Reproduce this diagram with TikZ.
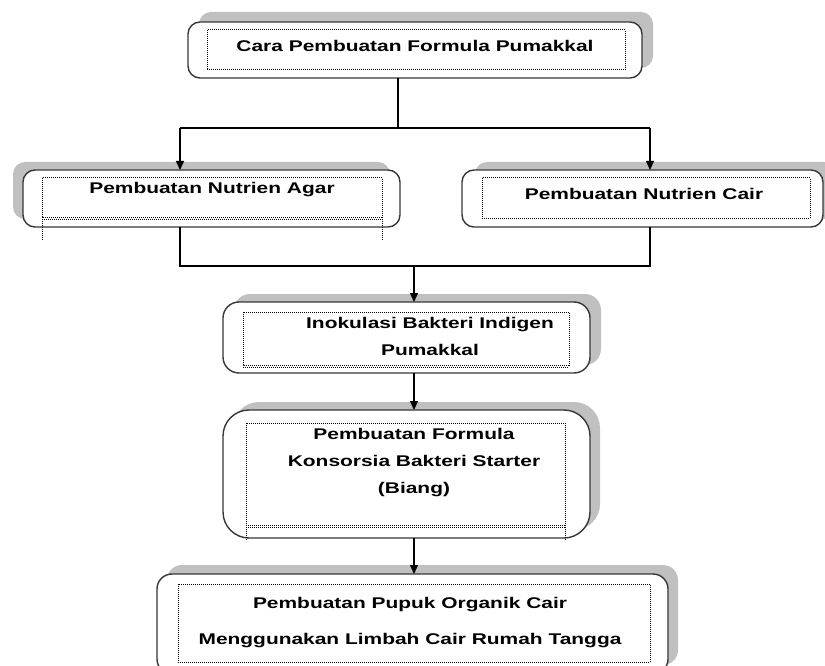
\documentclass[tikz,border=0pt]{standalone}
\usepackage{fontspec}
\newfontfamily\boxfont[FakeStretch=1.35]{Liberation Sans}
\usetikzlibrary{arrows.meta,shadows}
\definecolor{shadowgray}{RGB}{192,192,192}
\definecolor{edgegray}{RGB}{55,55,55}
\begin{document}
\begin{tikzpicture}[x=1pt, y=-1pt, >={Triangle[width=8pt,length=9pt]},
  box/.style={draw=edgegray, line width=1.4pt, fill=white, rectangle, rounded corners=12pt, inner sep=0pt, outer sep=0pt},
  shadowed/.style 2 args={drop shadow={shadow xshift=#1, shadow yshift=#2, fill=shadowgray, opacity=1}},
  frame/.style={line width=1pt, dash pattern=on 1pt off 1pt},
  txt/.style={font=\boxfont\bfseries\fontsize{15.5}{27}\selectfont, align=center, anchor=base, inner sep=0pt},
  link/.style={line width=1.3pt}]
\useasboundingbox (0,0) rectangle (825,666);
% boxes
\node[box, shadowed={11pt}{10pt}, minimum width=454pt, minimum height=56pt] (cara) at (415,50) {};
\node[box, shadowed={-10pt}{8pt}, minimum width=377pt, minimum height=57pt] (agar) at (211.5,198.5) {};
\node[box, shadowed={13pt}{8pt}, minimum width=361pt, minimum height=57pt] (cair) at (642.5,198.5) {};
\node[box, shadowed={11pt}{8pt}, rounded corners=16pt, minimum width=367pt, minimum height=71pt] (inokulasi) at (406.5,337.5) {};
\node[box, shadowed={10pt}{8pt}, rounded corners=26pt, minimum width=367pt, minimum height=128pt] (konsorsia) at (406.5,474) {};
\node[box, shadowed={10pt}{9pt}, rounded corners=15pt, minimum width=511pt, minimum height=100pt] (pupuk) at (412.5,624) {};
% dotted frames
\draw[frame] (207,30) rectangle (625,70);
\draw[frame] (42,178) rectangle (382,217);
\draw[frame] (42,219.5) -- (382,219.5);
\draw[frame] (42,217) -- (42,240);
\draw[frame] (382,217) -- (382,240);
\draw[frame] (482,178) rectangle (810,218);
\draw[frame] (243,312) rectangle (569,365);
\draw[frame] (243,367.5) -- (569,367.5);
\draw[frame] (246,423) rectangle (565,525);
\draw[frame] (246,527.5) -- (565,527.5);
\draw[frame] (246,525) -- (246,540);
\draw[frame] (565,525) -- (565,540);
\draw[frame] (178,584) rectangle (650,662);
% texts (base = last line)
\node[txt] (caratext) at (415,52) {Cara Pembuatan Formula Pumakkal};
\node[txt] (agartext) at (212,193.5) {Pembuatan Nutrien Agar};
\node[txt] (cairtext) at (644,200) {Pembuatan Nutrien Cair};
\node[txt] (inokulasitext) at (430,355.5) {Inokulasi Bakteri Indigen\\Pumakkal};
\node[txt] (konsorsiatext) at (414,493) {Pembuatan Formula\\Konsorsia Bakteri Starter\\(Biang)};
\node[txt, font=\boxfont\bfseries\fontsize{15.5}{36}\selectfont] (pupuktext) at (410,644) {Pembuatan Pupuk Organik Cair\\Menggunakan Limbah Cair Rumah Tangga};
% connectors
\coordinate (split) at (398,128);
\coordinate (splitl) at (180,128);
\coordinate (splitr) at (650,128);
\coordinate (joinl) at (180,266);
\coordinate (joinr) at (650,266);
\coordinate (join) at (414,266);
\draw[link] (cara.south -| split) -- (split);
\draw[link] (splitl) -- (splitr);
\draw[link,->] (splitl) -- (splitl |- agar.north);
\draw[link,->] (splitr) -- (splitr |- cair.north);
\draw[link] (joinl |- agar.south) -- (joinl) -- (joinr) -- (joinr |- cair.south);
\draw[link,->] (join) -- (join |- inokulasi.north);
\draw[link,->] (join |- inokulasi.south) -- (join |- konsorsia.north);
\draw[link,->] (join |- konsorsia.south) -- (join |- pupuk.north);
\end{tikzpicture}
\end{document}
